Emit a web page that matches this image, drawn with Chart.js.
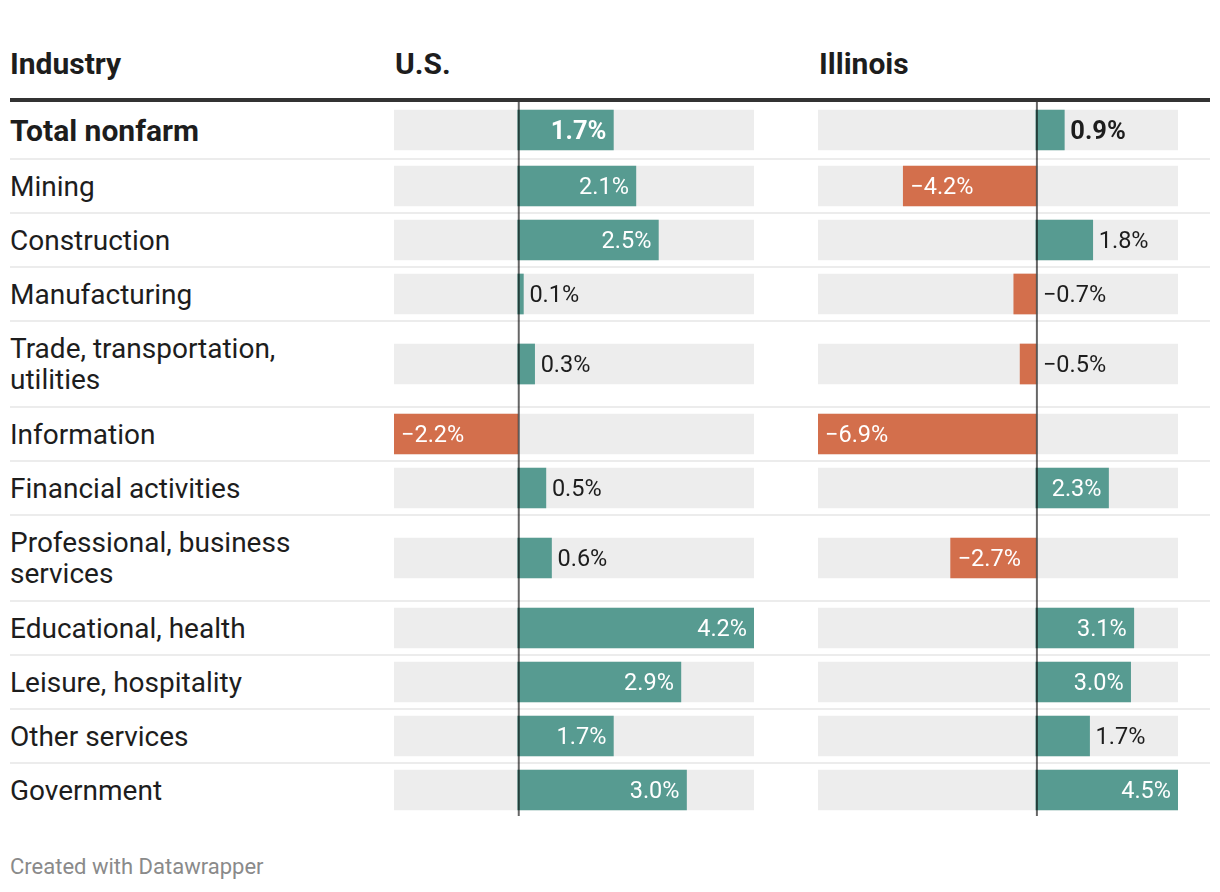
<!DOCTYPE html>
<html>
<head>
<meta charset="utf-8">
<script src="https://cdn.jsdelivr.net/npm/chart.js@4"></script>
<style>
  body { margin: 0; background: #fff; font-family: Roboto, sans-serif; color: #1d1d1d; }
  #wrap { position: relative; width: 1220px; height: 892px; overflow: hidden; }
  .hdr { position: absolute; top: 45px; font-weight: 700; font-size: 30px; line-height: 38px; }
  #rule { position: absolute; left: 10px; top: 98px; width: 1200px; height: 4px; background: #333; }
  .sep { position: absolute; left: 10px; width: 1200px; height: 2px; background: #ececec; }
  .lbl { position: absolute; left: 10px; width: 370px; font-size: 28px; line-height: 31px; display: flex; align-items: center; }
  .lbl.total { font-weight: 700; font-size: 30px; }
  .col { position: absolute; top: 102px; width: 360px; height: 714px; }
  #foot { position: absolute; left: 10px; top: 854px; font-size: 22px; color: #8a8a8a; }
</style>
</head>
<body>
<div id="wrap">
  <div class="hdr" style="left:10px">Industry</div>
  <div class="hdr" style="left:395px">U.S.</div>
  <div class="hdr" style="left:819px">Illinois</div>
  <div id="rule"></div>
  <div class="col" style="left:394px"><canvas id="usChart"></canvas></div>
  <div class="col" style="left:818px"><canvas id="ilChart"></canvas></div>
  <div id="foot">Created with Datawrapper</div>
</div>
<script>
const industries = ['Total nonfarm', 'Mining', 'Construction', 'Manufacturing',
  'Trade, transportation,\nutilities', 'Information', 'Financial activities',
  'Professional, business\nservices', 'Educational, health', 'Leisure, hospitality',
  'Other services', 'Government'];
const usValues = [1.7, 2.1, 2.5, 0.1, 0.3, -2.2, 0.5, 0.6, 4.2, 2.9, 1.7, 3.0];
const ilValues = [0.9, -4.2, 1.8, -0.7, -0.5, -6.9, 2.3, -2.7, 3.1, 3.0, 1.7, 4.5];

const TEAL = '#579b91';
const ORANGE = '#d36f4c';
const GREY = '#ededed';

// row layout (px): first row is taller, two-line labels get extra height
const TOP = 102, SEP = 2;
const rowHeights = industries.map((s, i) => (i === 0 ? 56 : 52 + 32 * (s.split('\n').length - 1)));
const rowCenters = [];
let yy = 0;
rowHeights.forEach((h, i) => {
  rowCenters.push(yy + h / 2);
  yy += h + (i < rowHeights.length - 1 ? SEP : 0);
});
const totalH = yy;

// labels and separators
const wrap = document.getElementById('wrap');
let acc = 0;
industries.forEach((name, i) => {
  const d = document.createElement('div');
  d.className = 'lbl' + (i === 0 ? ' total' : '');
  d.style.top = (TOP + acc) + 'px';
  d.style.height = rowHeights[i] + 'px';
  d.innerHTML = '<span>' + name.replace('\n', '<br>') + '</span>';
  wrap.appendChild(d);
  acc += rowHeights[i];
  if (i < industries.length - 1) {
    const s = document.createElement('div');
    s.className = 'sep';
    s.style.top = (TOP + acc) + 'px';
    wrap.insertBefore(s, wrap.firstChild);
    acc += SEP;
  }
});

const fmt = v => (v < 0 ? '\u2212' : '') + Math.abs(v).toFixed(1) + '%';

const zeroAndLabels = {
  id: 'zeroAndLabels',
  afterDatasetsDraw(chart) {
    const ctx = chart.ctx;
    const xs = chart.scales.x;
    const area = chart.chartArea;
    const x0 = xs.getPixelForValue(0) + 1;
    const vals = chart.data.datasets[0].data.map(p => p.x);
    const meta = chart.getDatasetMeta(0);
    ctx.save();
    // zero line
    ctx.strokeStyle = 'rgba(0,0,0,0.6)';
    ctx.lineWidth = 2;
    ctx.beginPath();
    ctx.moveTo(x0, area.top);
    ctx.lineTo(x0, area.bottom);
    ctx.stroke();
    // value labels
    ctx.textBaseline = 'middle';
    const pad = 7;
    meta.data.forEach((bar, i) => {
      const v = vals[i];
      const txt = fmt(v);
      ctx.font = (i === 0 ? '700 25.5px' : '400 23.5px') + ' Roboto, sans-serif';
      const tw = ctx.measureText(txt).width;
      const w = Math.abs(bar.x - bar.base);
      const inside = w >= tw + 2 * pad;
      let tx;
      if (inside) {
        ctx.fillStyle = '#fff';
        tx = v >= 0 ? bar.x - pad - tw : bar.x + pad;
      } else {
        ctx.fillStyle = '#1d1d1d';
        tx = v >= 0 ? bar.x + 6 : x0 + 6;
      }
      ctx.textAlign = 'left';
      ctx.fillText(txt, tx, bar.y + 2.5);
    });
    ctx.restore();
  }
};

function makeChart(id, values, min, max) {
  new Chart(document.getElementById(id), {
    type: 'bar',
    data: {
      datasets: [
        {
          data: values.map((v, i) => ({ x: v, y: rowCenters[i] })),
          backgroundColor: values.map(v => (v < 0 ? ORANGE : TEAL)),
          barThickness: 40,
          grouped: false,
          order: 1
        },
        {
          data: values.map((v, i) => ({ x: [min, max], y: rowCenters[i] })),
          backgroundColor: GREY,
          barThickness: 40,
          grouped: false,
          order: 2
        }
      ]
    },
    options: {
      indexAxis: 'y',
      responsive: true,
      maintainAspectRatio: false,
      animation: false,
      layout: { padding: 0 },
      plugins: { legend: { display: false }, tooltip: { enabled: false } },
      scales: {
        x: { type: 'linear', min: min, max: max, display: false },
        y: { type: 'linear', min: 0, max: totalH, reverse: true, offset: false, display: false }
      }
    },
    plugins: [zeroAndLabels]
  });
}

makeChart('usChart', usValues, -2.2, 4.2);
makeChart('ilChart', ilValues, -6.9, 4.5);
</script>
</body>
</html>
